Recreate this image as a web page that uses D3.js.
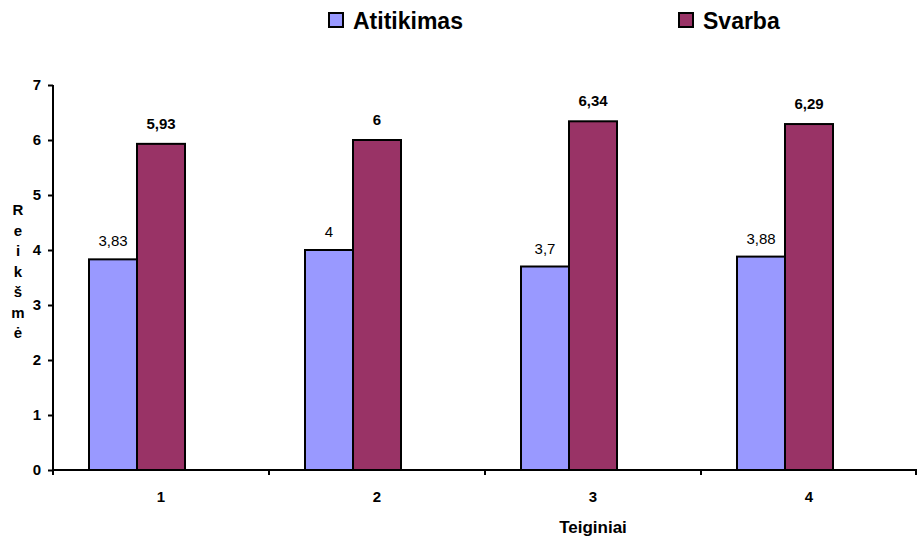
<!DOCTYPE html>
<html><head><meta charset="utf-8">
<script src="https://cdn.jsdelivr.net/npm/d3@7"></script>
<style>body{margin:0;background:#fff}svg{display:block}text{font-family:Arial,"Liberation Sans",sans-serif}</style>
</head><body><svg id="c" width="918" height="540"></svg>
<script>
const categories = ["1","2","3","4"];
const seriesNames = ["Atitikimas","Svarba"];
const atitikimas = [3.83, 4, 3.7, 3.88];
const svarba = [5.93, 6, 6.34, 6.29];
const atitikimasLabels = ["3,83","4","3,7","3,88"];
const svarbaLabels = ["5,93","6","6,34","6,29"];
const yTicks = [0,1,2,3,4,5,6,7];
const colors = ["#9999ff","#993366"];

const svg = d3.select("#c");
const m = {l:53, r:1, t:85, b:70};
const W = 918, H = 540;
const x = d3.scaleBand().domain(categories).range([m.l, W-m.r]).padding(0);
const y = d3.scaleLinear().domain([0,7]).range([H-m.b, m.t]);
const bw = x.bandwidth();
const slots = d3.scaleBand().domain(["a","b","c"]).range([bw/6, bw-bw/6]).padding(0);
const slotKeys = ["a","b"];

const data = categories.map((c,i)=>({c, vals:[atitikimas[i], svarba[i]], labs:[atitikimasLabels[i], svarbaLabels[i]]}));

// bars
const g = svg.append("g");
data.forEach(d=>{
  d.vals.forEach((v,j)=>{
    g.append("rect")
      .attr("x", x(d.c)+slots(slotKeys[j]))
      .attr("y", y(v))
      .attr("width", slots.bandwidth())
      .attr("height", y(0)-y(v))
      .attr("fill", colors[j]).attr("stroke","#000").attr("stroke-width",2);
    g.append("text")
      .attr("x", x(d.c)+slots(slotKeys[j])+slots.bandwidth()/2)
      .attr("y", y(v)-(j===0?13:15))
      .attr("text-anchor","middle")
      .attr("font-size",15)
      .attr("font-weight", j===0?"normal":"bold")
      .attr("fill","#000")
      .text(d.labs[j]);
  });
});

// y axis
const ya = svg.append("g").attr("transform",`translate(${m.l},0)`)
  .call(d3.axisLeft(y).tickValues(yTicks).tickSize(5).tickPadding(7).tickFormat(d3.format("d")));
ya.select(".domain").attr("stroke","#000").attr("stroke-width",2).attr("d",`M0,${y(7)}V${y(0)}`);
ya.selectAll(".tick line").attr("stroke","#000").attr("stroke-width",2);
ya.selectAll(".tick text").attr("font-size",15).attr("font-weight","bold").attr("fill","#000").attr("font-family","Arial, Liberation Sans, sans-serif");

// x axis
const xa = svg.append("g").attr("transform",`translate(0,${y(0)})`)
  .call(d3.axisBottom(x).tickSize(0).tickPadding(21));
xa.select(".domain").attr("stroke","#000").attr("stroke-width",2).attr("d",`M${m.l},0H${W-m.r}`);
xa.selectAll(".tick text").attr("font-size",15).attr("font-weight","bold").attr("fill","#000").attr("font-family","Arial, Liberation Sans, sans-serif");
const bounds = categories.map(c=>x(c)).concat([x(categories[categories.length-1])+bw]);
xa.selectAll(".bnd").data(bounds).join("line")
  .attr("x1",d=>Math.min(d,W-2)).attr("x2",d=>Math.min(d,W-2)).attr("y1",0).attr("y2",5)
  .attr("stroke","#000").attr("stroke-width",2);

// x axis title
svg.append("text").attr("x", x("3")+bw/2).attr("y",533).attr("text-anchor","middle")
  .attr("font-size",17).attr("font-weight","bold").text("Teiginiai");

// y axis title (stacked letters)
const yTitle = Array.from("Reikšmė");
svg.append("g").selectAll("text").data(yTitle).join("text")
  .attr("x",18).attr("y",(d,i)=>215+i*20.5).attr("text-anchor","middle")
  .attr("font-size",15).attr("font-weight","bold").text(d=>d);

// legend
const legX = [329, 679];
seriesNames.forEach((s,i)=>{
  svg.append("rect").attr("x",legX[i]).attr("y",13).attr("width",14).attr("height",14)
    .attr("fill",colors[i]).attr("stroke","#000").attr("stroke-width",2);
  svg.append("text").attr("x",legX[i]+24).attr("y",29).attr("font-size",23).attr("font-weight","bold").text(s);
});
</script></body></html>
